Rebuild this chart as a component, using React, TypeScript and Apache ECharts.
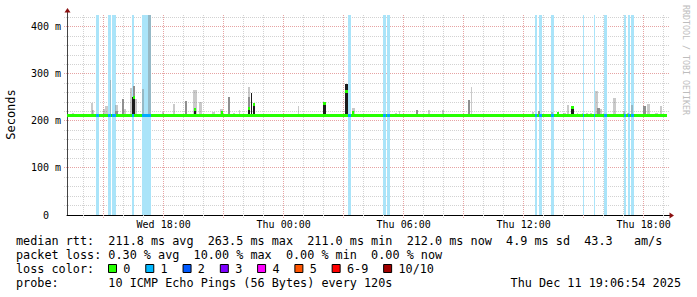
import { useEffect, useRef } from "react";
import * as echarts from "echarts";

const YEAR = 2025;
const RANGE_START = "12-10 13:10";
const RANGE_END = "12-11 19:10";
const Y_MAX = 425;
const Y_LABEL_STEP = 100;
const X_LABEL_TIMES = ["12-10 18:00", "12-11 00:00", "12-11 06:00", "12-11 12:00", "12-11 18:00"];
const DAY_NAMES = ["Sun", "Mon", "Tue", "Wed", "Thu", "Fri", "Sat"];

const MEDIAN_BASE = 211;

// loss = 1/10 periods: [start, end]
const LOSS_BANDS: [string, string][] = [
  ["12-10 14:37", "12-10 14:46"],
  ["12-10 15:13", "12-10 15:22"],
  ["12-10 15:25", "12-10 15:36"],
  ["12-10 16:25", "12-10 16:31"],
  ["12-10 16:56", "12-10 17:22"],
  ["12-11 03:14", "12-11 03:22"],
  ["12-11 04:59", "12-11 05:07"],
  ["12-11 05:10", "12-11 05:19"],
  ["12-11 12:34", "12-11 12:39"],
  ["12-11 12:46", "12-11 12:55"],
  ["12-11 13:22", "12-11 13:31"],
  ["12-11 14:58", "12-11 15:01"],
  ["12-11 15:31", "12-11 15:35"],
  ["12-11 16:01", "12-11 16:10"],
  ["12-11 17:01", "12-11 17:06"],
  ["12-11 17:14", "12-11 17:20"],
  ["12-11 17:23", "12-11 17:30"],
];

// median excursions: [start, end, ms]
const MEDIAN_SPIKES: [string, string, number][] = [
  ["12-10 16:29", "12-10 16:33", 250],
  ["12-10 19:32", "12-10 19:37", 225],
  ["12-10 20:52", "12-10 20:57", 217],
  ["12-10 22:13", "12-10 22:19", 227],
  ["12-10 22:29", "12-10 22:34", 235],
  ["12-11 01:59", "12-11 02:06", 237],
  ["12-11 03:04", "12-11 03:12", 263],
  ["12-11 03:24", "12-11 03:31", 218],
  ["12-11 13:39", "12-11 13:46", 216],
  ["12-11 14:22", "12-11 14:32", 229],
];

// smoke: [start, end, top ms, shade 0 light / 1 mid / 2 dark]
const SMOKE: [string, string, number, number][] = [
  ["12-10 13:25", "12-10 13:31", 217, 0],
  ["12-10 14:22", "12-10 14:27", 239, 0],
  ["12-10 14:25", "12-10 14:32", 223, 0],
  ["12-10 14:58", "12-10 15:04", 226, 0],
  ["12-10 15:05", "12-10 15:13", 232, 0],
  ["12-10 15:19", "12-10 15:22", 287, 0],
  ["12-10 15:34", "12-10 15:43", 234, 0],
  ["12-10 15:34", "12-10 15:43", 222, 1],
  ["12-10 15:55", "12-10 16:00", 247, 1],
  ["12-10 16:01", "12-10 16:07", 225, 0],
  ["12-10 16:19", "12-10 16:24", 269, 0],
  ["12-10 16:28", "12-10 16:33", 274, 1],
  ["12-10 16:25", "12-10 16:33", 251, 2],
  ["12-10 16:34", "12-10 16:39", 246, 0],
  ["12-10 16:55", "12-10 17:01", 267, 0],
  ["12-10 17:12", "12-10 17:21", 440, 0],
  ["12-10 17:55", "12-10 18:01", 219, 0],
  ["12-10 18:29", "12-10 18:35", 235, 0],
  ["12-10 19:04", "12-10 19:09", 242, 1],
  ["12-10 19:29", "12-10 19:39", 266, 0],
  ["12-10 19:32", "12-10 19:37", 227, 2],
  ["12-10 19:46", "12-10 19:55", 241, 0],
  ["12-10 20:25", "12-10 20:33", 218, 0],
  ["12-10 20:49", "12-10 20:58", 225, 0],
  ["12-10 21:12", "12-10 21:19", 251, 1],
  ["12-10 21:28", "12-10 21:34", 216, 0],
  ["12-10 21:45", "12-10 21:49", 223, 0],
  ["12-10 22:13", "12-10 22:19", 271, 0],
  ["12-10 22:13", "12-10 22:19", 250, 1],
  ["12-10 22:13", "12-10 22:19", 227, 2],
  ["12-10 22:21", "12-10 22:26", 259, 2],
  ["12-10 22:29", "12-10 22:34", 235, 2],
  ["12-11 00:42", "12-11 00:46", 232, 0],
  ["12-11 01:59", "12-11 02:06", 237, 2],
  ["12-11 03:04", "12-11 03:12", 278, 2],
  ["12-11 03:25", "12-11 03:33", 227, 0],
  ["12-11 03:24", "12-11 03:31", 218, 2],
  ["12-11 05:34", "12-11 05:39", 217, 0],
  ["12-11 05:46", "12-11 05:49", 221, 0],
  ["12-11 06:37", "12-11 06:43", 223, 1],
  ["12-11 07:12", "12-11 07:19", 223, 0],
  ["12-11 07:54", "12-11 08:00", 223, 0],
  ["12-11 09:21", "12-11 09:26", 271, 0],
  ["12-11 09:14", "12-11 09:19", 244, 1],
  ["12-11 12:24", "12-11 12:31", 218, 0],
  ["12-11 12:43", "12-11 12:49", 222, 1],
  ["12-11 13:22", "12-11 13:28", 219, 0],
  ["12-11 13:39", "12-11 13:46", 216, 2],
  ["12-11 13:58", "12-11 14:07", 216, 0],
  ["12-11 14:09", "12-11 14:15", 234, 0],
  ["12-11 14:22", "12-11 14:32", 229, 2],
  ["12-11 14:39", "12-11 14:43", 216, 0],
  ["12-11 14:54", "12-11 14:58", 216, 0],
  ["12-11 15:07", "12-11 15:13", 216, 0],
  ["12-11 15:19", "12-11 15:25", 217, 0],
  ["12-11 15:35", "12-11 15:44", 264, 0],
  ["12-11 15:40", "12-11 15:49", 227, 1],
  ["12-11 15:49", "12-11 15:55", 225, 0],
  ["12-11 16:29", "12-11 16:37", 248, 0],
  ["12-11 16:59", "12-11 17:04", 220, 0],
  ["12-11 17:09", "12-11 17:15", 217, 0],
  ["12-11 17:22", "12-11 17:28", 234, 0],
  ["12-11 17:59", "12-11 18:07", 232, 1],
  ["12-11 18:11", "12-11 18:19", 236, 0],
  ["12-11 18:34", "12-11 18:42", 216, 0],
  ["12-11 18:49", "12-11 18:56", 232, 0],
];
const SMOKE_BASE = 209;
const SMOKE_COLORS = ["rgba(115,115,115,0.38)", "#8f8f8f", "#1c1c1c"];

const LOSS_LABELS = ["0", "1", "2", "3", "4", "5", "6-9", "10/10"];
const LOSS_COLORS = ["#26ff00", "#00b8ff", "#0059ff", "#7e00ff", "#ff00ff", "#ff5500", "#ff0000", "#a10000"];
const LOSS_BG_COLOR = "#aae4f9";
const MEDIAN_LOSS1_COLOR = "#00aaff";

const LINE_MEDIAN = "median rtt:  211.8 ms avg  263.5 ms max  211.0 ms min  212.0 ms now  4.9 ms sd  43.3   am/s";
const LINE_LOSS = "packet loss: 0.30 % avg  10.00 % max  0.00 % min  0.00 % now";
const LINE_COLOR = "loss color:";
const LINE_PROBE = "probe:       10 ICMP Echo Pings (56 Bytes) every 120s";
const LINE_DATE = "Thu Dec 11 19:06:54 2025";
const Y_TITLE = "Seconds";
const SIDE_TEXT = "RRDTOOL / TOBI OETIKER";

const MONO = "'DejaVu Sans Mono', 'Liberation Mono', monospace";

const parseT = (s: string) => {
  const [md, hm] = s.split(" ");
  const [mo, d] = md.split("-").map(Number);
  const [h, mi] = hm.split(":").map(Number);
  return new Date(YEAR, mo - 1, d, h, mi).getTime();
};

const T0 = parseT(RANGE_START);
const T1 = parseT(RANGE_END);
const pad2 = (n: number) => (n < 10 ? "0" + n : "" + n);

function buildOption(): any {
  const lossData = LOSS_BANDS.map(([a, b]) => [parseT(a), parseT(b), Y_MAX]);
  const smokeData = SMOKE.map(([a, b, v, s]) => [parseT(a), parseT(b), v, s]).sort((p, q) => p[3] - q[3]);
  const medianData: number[][] = [[T0, T1, MEDIAN_BASE, 0]];
  LOSS_BANDS.forEach(([a, b]) => medianData.push([parseT(a), parseT(b), MEDIAN_BASE, 1]));
  MEDIAN_SPIKES.forEach(([a, b, v]) => medianData.push([parseT(a), parseT(b), v, 0]));

  const hours: number[] = [];
  const d = new Date(T0);
  d.setMinutes(0, 0, 0);
  if (d.getTime() < T0) d.setHours(d.getHours() + 1);
  while (d.getTime() <= T1) {
    hours.push(d.getTime());
    d.setHours(d.getHours() + 1);
  }

  const MINOR = "#d2d2d2";
  const MAJOR = "#e6a3a3";

  const gridSeries = {
    type: "custom",
    silent: true,
    clip: false,
    z: 1,
    data: [[T0, 0]],
    renderItem: (_p: any, api: any) => {
      const children: any[] = [];
      const lb = api.coord([T0, 0]);
      const rt = api.coord([T1, Y_MAX]);
      const left = lb[0], bottom = lb[1], right = rt[0], top = rt[1];
      const mk = (x1: number, y1: number, x2: number, y2: number, c: string) => ({
        type: "line",
        shape: { x1, y1, x2, y2 },
        style: { stroke: c, lineWidth: 1, lineDash: [1, 1] },
      });
      const minors: any[] = [];
      const majors: any[] = [];
      hours.forEach((t) => {
        const x = Math.floor(api.coord([t, 0])[0]) + 0.5;
        const isMajor = new Date(t).getHours() % 3 === 0;
        (isMajor ? majors : minors).push(mk(x, top, x, bottom + 3, isMajor ? MAJOR : MINOR));
      });
      for (let v = 20; v < Y_MAX; v += 20) {
        const y = Math.floor(api.coord([T0, v])[1]) + 0.5;
        const isMajor = v % 100 === 0;
        (isMajor ? majors : minors).push(mk(left - 3, y, right + 2, y, isMajor ? MAJOR : MINOR));
      }
      children.push(...minors, ...majors);
      return { type: "group", children };
    },
  };

  const rectFrom = (api: any, t0: number, t1: number, v0: number, v1: number) => {
    const p0 = api.coord([t0, v0]);
    const p1 = api.coord([t1, v1]);
    const x0 = Math.round(p0[0]);
    const x1 = Math.max(x0 + 1, Math.round(p1[0]));
    const y0 = Math.round(Math.min(p0[1], p1[1]));
    const y1 = Math.round(Math.max(p0[1], p1[1]));
    return { x: x0, y: y0, width: x1 - x0, height: y1 - y0 };
  };

  const lossSeries = {
    type: "custom",
    silent: true,
    clip: true,
    z: 2,
    encode: { x: [0, 1], y: 2 },
    data: lossData,
    renderItem: (_p: any, api: any) => ({
      type: "rect",
      shape: rectFrom(api, api.value(0), api.value(1), 0, api.value(2)),
      style: { fill: LOSS_BG_COLOR },
    }),
  };

  const smokeSeries = {
    type: "custom",
    silent: true,
    clip: true,
    z: 3,
    encode: { x: [0, 1], y: 2 },
    data: smokeData,
    renderItem: (_p: any, api: any) => ({
      type: "rect",
      shape: rectFrom(api, api.value(0), api.value(1), SMOKE_BASE, api.value(2)),
      style: { fill: SMOKE_COLORS[api.value(3)] },
    }),
  };

  const medianSeries = {
    type: "custom",
    silent: true,
    clip: true,
    z: 4,
    encode: { x: [0, 1], y: 2 },
    data: medianData,
    renderItem: (_p: any, api: any) => {
      const p0 = api.coord([api.value(0), api.value(2)]);
      const p1 = api.coord([api.value(1), api.value(2)]);
      const x0 = Math.round(p0[0]);
      const x1 = Math.max(x0 + 1, Math.round(p1[0]));
      const yc = Math.round(p0[1] - 1.5);
      return {
        type: "rect",
        shape: { x: x0, y: yc, width: x1 - x0, height: 3 },
        style: { fill: api.value(3) === 1 ? MEDIAN_LOSS1_COLOR : LOSS_COLORS[0] },
      };
    },
  };

  const graphics: any[] = [];
  graphics.push({ type: "line", shape: { x1: 67.5, y1: 15, x2: 67.5, y2: 11 }, style: { stroke: "#444", lineWidth: 1 }, z: 10 });
  graphics.push({ type: "polygon", shape: { points: [[64.5, 12.5], [70.5, 12.5], [67.5, 8]] }, style: { fill: "#8b1010" }, z: 10 });
  graphics.push({ type: "line", shape: { x1: 667, y1: 215.5, x2: 670, y2: 215.5 }, style: { stroke: "#000", lineWidth: 1 }, z: 10 });
  graphics.push({ type: "polygon", shape: { points: [[669.5, 212.5], [669.5, 218.5], [674, 215.5]] }, style: { fill: "#8b1010" }, z: 10 });

  graphics.push({
    type: "text",
    x: 10.5,
    y: 114.5,
    rotation: Math.PI / 2,
    style: { text: Y_TITLE, font: `12px ${MONO}`, fill: "#000", textAlign: "center", textVerticalAlign: "middle" },
  });
  graphics.push({
    type: "text",
    x: 686,
    y: 60,
    rotation: -Math.PI / 2,
    style: { text: SIDE_TEXT, font: `8.3px ${MONO}`, fill: "#bdbdbd", textAlign: "center", textVerticalAlign: "middle" },
  });

  const LEG_FONT = `11.8px ${MONO}`;
  const textAt = (text: string, x: number, y: number, align = "left") => ({
    type: "text",
    x,
    y,
    style: { text, font: LEG_FONT, fill: "#000", textAlign: align, textVerticalAlign: "middle" },
  });
  graphics.push(textAt(LINE_MEDIAN, 16, 240.7));
  graphics.push(textAt(LINE_LOSS, 16, 254.7));
  graphics.push(textAt(LINE_COLOR, 16, 268.7));
  graphics.push(textAt(LINE_PROBE, 16, 283.2));
  graphics.push(textAt(LINE_DATE, 681, 283.2, "right"));

  const CH = 7.1;
  let sx = 108.5;
  LOSS_LABELS.forEach((lab, i) => {
    graphics.push({
      type: "rect",
      shape: { x: sx, y: 264.5, width: 8, height: 8 },
      style: { fill: LOSS_COLORS[i], stroke: "#000", lineWidth: 1 },
    });
    graphics.push(textAt(lab, sx + 14.8, 268.7));
    sx += CH * (lab.length + 4.25);
  });

  return {
    animation: false,
    backgroundColor: "#ffffff",
    grid: { left: 67, top: 15, width: 600, height: 200, containLabel: false },
    xAxis: {
      type: "value",
      min: T0,
      max: T1,
      splitLine: { show: false },
      axisTick: { show: false },
      axisLine: { show: true, lineStyle: { color: "#000", width: 1 } },
      axisLabel: {
        customValues: X_LABEL_TIMES.map(parseT),
        formatter: (v: number) => {
          const dt = new Date(v);
          return `${DAY_NAMES[dt.getDay()]} ${pad2(dt.getHours())}:${pad2(dt.getMinutes())}`;
        },
        fontFamily: MONO,
        fontSize: 10,
        color: "#000",
        margin: 4,
      },
    },
    yAxis: {
      type: "value",
      min: 0,
      max: Y_MAX,
      interval: Y_LABEL_STEP,
      splitLine: { show: false },
      axisTick: { show: false },
      axisLine: { show: true, lineStyle: { color: "#444", width: 1 } },
      axisLabel: {
        showMaxLabel: false,
        margin: 6,
        color: "#000",
        fontFamily: MONO,
        fontSize: 10,
        formatter: (v: number) => (v === 0 ? "{z|0}" : `{n|${v} m}`),
        rich: {
          z: { fontFamily: MONO, fontSize: 10, color: "#000", padding: [0, 12, 0, 0] },
          n: { fontFamily: MONO, fontSize: 10, color: "#000" },
        },
      },
    },
    series: [gridSeries, lossSeries, smokeSeries, medianSeries],
    graphic: { elements: graphics },
  };
}

export default function App() {
  const ref = useRef<HTMLDivElement>(null);
  useEffect(() => {
    if (!ref.current) return;
    const chart = echarts.init(ref.current, undefined, { renderer: "svg" });
    chart.setOption(buildOption());
    return () => chart.dispose();
  }, []);
  return (
    <div
      ref={ref}
      style={{ position: "absolute", left: 0, top: 0, width: 697, height: 297, background: "#fff" }}
    />
  );
}
